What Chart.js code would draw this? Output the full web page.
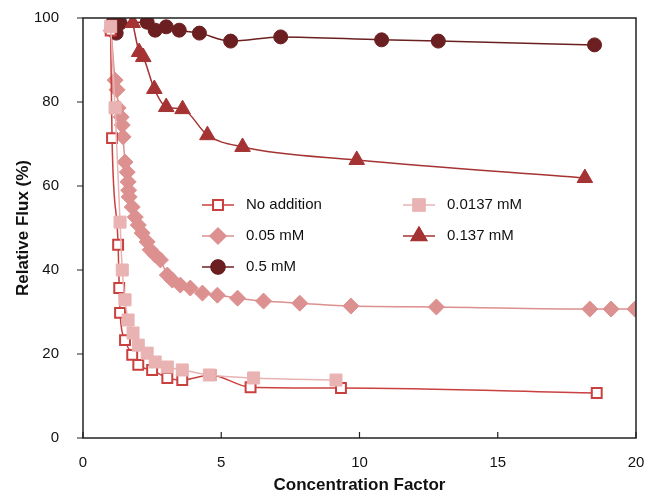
<!DOCTYPE HTML>
<html>
<head>
    <script src="https://cdn.jsdelivr.net/npm/chart.js"></script>
    <style>
        body { margin: 0; background: white; }
        #chartBox { width: 646px; height: 496px; }
    </style>
</head>
<body>

<div id="chartBox"><canvas id="fluxChart"></canvas></div>

<script type="text/javascript">
    // values
    const noAddX = [1.0, 1.05, 1.27, 1.31, 1.34, 1.52, 1.78, 2.0, 2.5, 3.05, 3.59, 4.61, 6.06, 9.33, 18.58];
    const noAddY = [97, 71.4, 46, 35.7, 29.8, 23.3, 19.8, 17.4, 16.2, 14.3, 13.8, 15, 12.1, 11.9, 10.7];

    const lowX = [1.0, 1.16, 1.34, 1.42, 1.52, 1.63, 1.81, 2.0, 2.32, 2.61, 3.05, 3.59, 4.57, 6.17, 9.15];
    const lowY = [98, 78.6, 51.4, 40, 32.9, 28.1, 25, 22.1, 20.2, 18.1, 16.9, 16.2, 15, 14.3, 13.8];

    const midX = [1.02, 1.16, 1.23, 1.27, 1.38, 1.42, 1.45, 1.52, 1.6, 1.63, 1.65, 1.67, 1.78, 1.89, 2.0, 2.14, 2.32, 2.43, 2.61, 2.8, 3.05, 3.23, 3.52, 3.88, 4.32, 4.86, 5.59, 6.53, 7.84, 9.69, 12.78, 18.33, 19.1, 19.96];
    const midY = [97, 85.2, 82.9, 78.6, 76.4, 74.5, 71.7, 65.7, 63.3, 61, 59, 57.4, 55, 52.6, 50.7, 48.8, 46.7, 44.8, 43.6, 42.4, 38.8, 37.6, 36.4, 35.7, 34.5, 34, 33.3, 32.6, 32.1, 31.4, 31.2, 30.7, 30.7, 30.7];

    const highX = [1.09, 1.2, 1.34, 2.32, 2.61, 3.01, 3.48, 4.21, 5.34, 7.15, 10.8, 12.85, 18.5];
    const highY = [99.0, 96.4, 98.8, 99.0, 97.1, 97.9, 97.1, 96.4, 94.5, 95.5, 94.8, 94.5, 93.6];

    const triX = [1.8, 2.03, 2.18, 2.58, 3.01, 3.6, 4.5, 5.77, 9.9, 18.15];
    const triY = [98.8, 91.9, 90.7, 83.1, 78.8, 78.3, 72.1, 69.3, 66.2, 61.9];

    const xTicks = [0, 5, 10, 15, 20];
    const yTicks = [0, 20, 40, 60, 80, 100];

    function pts(xs, ys) {
        return xs.map(function (x, i) { return {x: x, y: ys[i]}; });
    }

    const series = [
        {label: 'No addition', data: pts(noAddX, noAddY), color: '#c9403f', fill: '#ffffff', style: 'rect', radius: 7, bw: 2, order: 2},
        {label: '0.05 mM', data: pts(midX, midY), color: '#dc908f', fill: '#dc908f', style: 'rectRot', radius: 8, bw: 1, order: 4},
        {label: '0.5 mM', data: pts(highX, highY), color: '#6b1f20', fill: '#6b1f20', style: 'circle', radius: 7, bw: 1, order: 3},
        {label: '0.0137 mM', data: pts(lowX, lowY), color: '#e9b3b3', fill: '#e9b3b3', style: 'rect', radius: 8.5, bw: 1, order: 1},
        {label: '0.137 mM', data: pts(triX, triY), color: '#a53333', fill: '#a53333', style: 'triangle', radius: 9, bw: 1, order: 0}
    ];

    const datasets = series.map(function (s) {
        return {
            label: s.label,
            data: s.data,
            borderColor: s.color,
            backgroundColor: s.fill,
            pointStyle: s.style,
            pointRadius: s.radius,
            pointBorderColor: s.color,
            pointBackgroundColor: s.fill,
            pointBorderWidth: s.bw,
            borderWidth: 1.5,
            cubicInterpolationMode: 'monotone',
            order: s.order
        };
    });

    // legend inside the plot, two columns
    const legendSpots = [
        {i: 0, x: 202, y: 205}, {i: 1, x: 202, y: 236}, {i: 2, x: 202, y: 267},
        {i: 3, x: 403, y: 205}, {i: 4, x: 403, y: 236}
    ];

    const framePlugin = {
        id: 'frame',
        afterDraw(chart) {
            const ctx = chart.ctx;
            const a = chart.chartArea;
            const xs = chart.scales.x, ys = chart.scales.y;
            ctx.save();
            ctx.strokeStyle = '#222';
            ctx.lineWidth = 1.5;
            ctx.strokeRect(a.left, a.top, a.right - a.left, a.bottom - a.top);
            ctx.lineWidth = 1.2;
            ctx.beginPath();
            xTicks.forEach(function (v) {
                const px = xs.getPixelForValue(v);
                ctx.moveTo(px, a.bottom);
                ctx.lineTo(px, a.bottom - 6);
            });
            yTicks.forEach(function (v) {
                const py = ys.getPixelForValue(v);
                ctx.moveTo(a.left - 6, py);
                ctx.lineTo(a.left, py);
            });
            ctx.stroke();

            ctx.font = '15px "Liberation Sans", Arial, sans-serif';
            ctx.textBaseline = 'middle';
            legendSpots.forEach(function (spot) {
                const s = series[spot.i];
                ctx.strokeStyle = s.color;
                ctx.lineWidth = 1.5;
                ctx.beginPath();
                ctx.moveTo(spot.x, spot.y);
                ctx.lineTo(spot.x + 32, spot.y);
                ctx.stroke();
                Chart.helpers.drawPoint(ctx, {
                    pointStyle: s.style,
                    radius: s.radius,
                    borderWidth: s.bw
                }, spot.x + 16, spot.y);
                ctx.fillStyle = s.fill;
                ctx.strokeStyle = s.color;
                ctx.lineWidth = s.bw;
                ctx.fill();
                ctx.stroke();
                ctx.fillStyle = '#111';
                ctx.fillText(s.label, spot.x + 44, spot.y);
            });
            ctx.restore();
        }
    };

    new Chart(document.getElementById('fluxChart'), {
        type: 'line',
        data: {datasets: datasets},
        options: {
            responsive: true,
            maintainAspectRatio: false,
            animation: false,
            layout: {padding: {top: 18, right: 8, left: 0, bottom: 0}},
            plugins: {legend: {display: false}, tooltip: {enabled: false}},
            scales: {
                x: {
                    type: 'linear',
                    min: 0, max: 20,
                    afterBuildTicks: function (scale) { scale.ticks = xTicks.map(function (v) { return {value: v}; }); },
                    afterFit: function (scale) {
                        scale.height = 58;
                        scale.paddingLeft = 0;
                        scale.paddingRight = 0;
                    },
                    grid: {display: false},
                    border: {display: false},
                    ticks: {color: '#111', padding: 8, font: {family: '"Liberation Sans", Arial', size: 15}},
                    title: {display: true, text: 'Concentration Factor', color: '#111', padding: {top: 0, bottom: 0},
                        font: {family: '"Liberation Sans", Arial', size: 17, weight: 'bold'}}
                },
                y: {
                    min: 0, max: 100,
                    afterBuildTicks: function (scale) { scale.ticks = yTicks.map(function (v) { return {value: v}; }); },
                    afterFit: function (scale) {
                        scale.width = 83;
                        scale.paddingTop = 0;
                        scale.paddingBottom = 0;
                    },
                    grid: {display: false},
                    border: {display: false},
                    ticks: {color: '#111', padding: 16, font: {family: '"Liberation Sans", Arial', size: 15}},
                    title: {display: true, text: 'Relative Flux (%)', color: '#111', padding: {top: 13, bottom: 0},
                        font: {family: '"Liberation Sans", Arial', size: 17, weight: 'bold'}}
                }
            }
        },
        plugins: [framePlugin]
    });
</script>
</body>
</html>
